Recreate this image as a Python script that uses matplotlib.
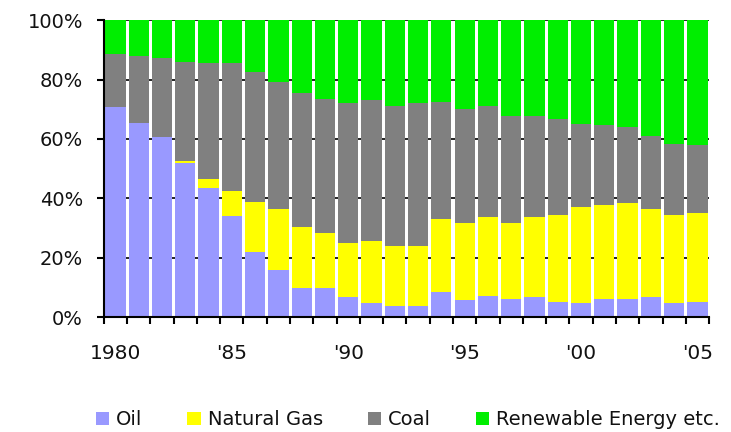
import matplotlib
matplotlib.use("Agg")
import matplotlib.pyplot as plt
import numpy as np
from matplotlib.patches import Patch

plt.rcParams['font.family'] = 'DejaVu Sans'

years = list(range(1980, 2006))
oil = [70.8, 65.3, 60.8, 51.8, 43.6, 34.2, 22.1, 15.9, 9.7, 9.7, 6.7, 4.7, 3.9,
       3.9, 8.6, 5.8, 7.3, 6.0, 6.7, 5.3, 4.7, 6.0, 6.0, 6.7, 4.7, 5.3]
gas = [0.0, 0.0, 0.0, 0.8, 2.9, 8.3, 16.8, 20.4, 20.6, 18.8, 18.2, 20.9, 20.2,
       20.2, 24.5, 26.0, 26.3, 25.6, 26.9, 29.1, 32.5, 31.8, 32.5, 29.6, 29.7, 29.7]
coal = [17.8, 22.7, 26.6, 33.2, 38.9, 42.9, 43.7, 43.0, 45.2, 44.8, 47.1, 47.5, 47.0,
        47.9, 39.4, 38.2, 37.5, 36.1, 34.1, 32.2, 28.0, 26.9, 25.4, 24.7, 23.9, 23.0]
renewable = [11.4, 12.0, 12.6, 14.2, 14.6, 14.6, 17.4, 20.7, 24.5, 26.7, 28.0, 26.9, 28.9,
             28.0, 27.5, 30.0, 28.9, 32.3, 32.3, 33.4, 34.8, 35.3, 36.1, 39.0, 41.7, 42.0]
series_names = ["Oil", "Natural Gas", "Coal", "Renewable Energy etc."]
colors = ["#9999FF", "#FFFF00", "#808080", "#00EE00"]
year_labels = {1980: "1980", 1985: "'85", 1990: "'90", 1995: "'95", 2000: "'00", 2005: "'05"}

fig = plt.figure(figsize=(7.31, 4.32), dpi=100)
ax = fig.add_axes([0.142, 0.2655, 0.828, 0.688])

x = np.arange(len(years))
bottom = np.zeros(len(years))
for vals, col in zip([oil, gas, coal, renewable], colors):
    vals = np.array(vals)
    ax.bar(x, vals, bottom=bottom, width=0.87, color=col, zorder=2)
    bottom += vals

ax.set_xlim(-0.5, len(years) - 0.5)
ax.set_ylim(0, 100)
ax.set_yticks(np.arange(0, 101, 20))
ax.set_yticklabels([f"{v}%" for v in range(0, 101, 20)], fontsize=14, color="#111111")
ax.yaxis.grid(True, color="black", linewidth=1.2, zorder=0)
ax.set_axisbelow(True)

ticks = [years.index(y) for y in year_labels]
ax.set_xticks(ticks)
ax.set_xticklabels(list(year_labels.values()), fontsize=14.5, color="#111111")
ax.set_xticks(np.arange(-0.5, len(years), 1), minor=True)
ax.tick_params(axis="x", which="major", length=0, pad=19)
ax.tick_params(axis="x", which="minor", length=5, width=1.5)
ax.tick_params(axis="y", length=5, width=1.5, pad=10)

for s in ["top", "right"]:
    ax.spines[s].set_visible(False)
for s in ["left", "bottom"]:
    ax.spines[s].set_linewidth(1.5)

handles = [Patch(facecolor=c, edgecolor="none") for c in colors]
fig.legend(handles, series_names, loc="center", bbox_to_anchor=(0.558, 0.028), ncol=4,
           frameon=False, fontsize=14, handlelength=0.7, handleheight=0.7,
           handletextpad=0.35, columnspacing=2.3, labelcolor="#111111")

fig.savefig("out.png", dpi=100, facecolor="white")
